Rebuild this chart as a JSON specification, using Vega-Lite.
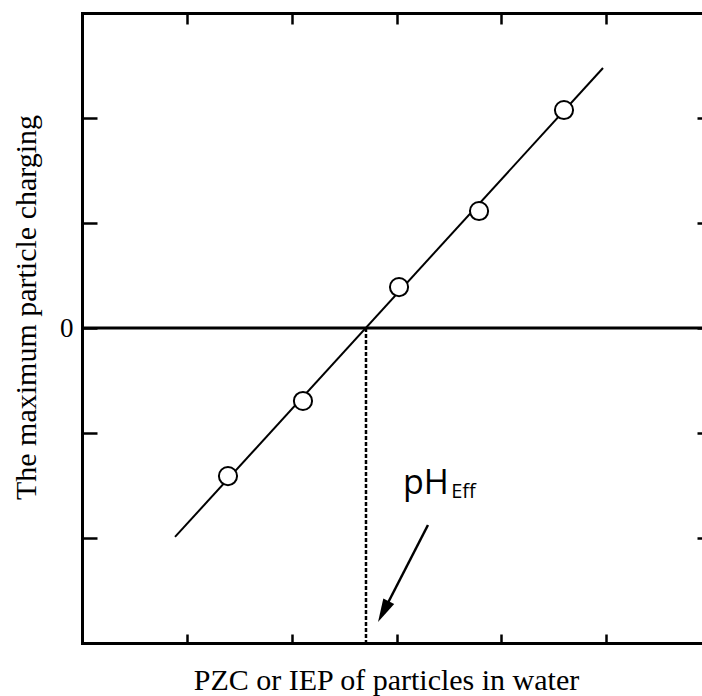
{
  "$schema": "https://vega.github.io/schema/vega-lite/v6.json",
  "width": 620,
  "height": 630,
  "autosize": {"type": "none"},
  "padding": {"left": 82, "top": 13, "right": 0, "bottom": 53},
  "background": "white",
  "config": {
    "view": {"stroke": null},
    "axis": {"grid": false, "domain": false, "domainColor": "black", "domainWidth": 3, "domainCap": "square", "tickColor": "black", "tickWidth": 2.5, "labelColor": "black", "titleColor": "black", "titleFontWeight": "normal"}
  },
  "resolve": {"axis": {"x": "independent", "y": "independent"}},
  "layer": [
    {
      "data": {"values": [{"x": 0.887, "y": -1.99}, {"x": 4.968, "y": 2.476}]},
      "mark": {"type": "line", "color": "black", "strokeWidth": 2},
      "encoding": {
        "x": {"field": "x", "type": "quantitative",
          "scale": {"domain": [0, 5.912], "nice": false, "zero": false},
          "axis": {"orient": "bottom", "domain": true, "values": [1, 2, 3, 4, 5], "tickSize": -9, "labels": false,
            "title": "PZC or IEP of particles in water", "titleFont": "Liberation Serif", "titleFontSize": 30,
            "titleBaseline": "alphabetic", "titleAlign": "center", "titleX": 304, "titleY": 46}},
        "y": {"field": "y", "type": "quantitative",
          "scale": {"domain": [-3, 3], "nice": false, "zero": false},
          "axis": {"orient": "left", "domain": true, "values": [-2, -1, 0, 1, 2], "tickSize": -15,
            "labelExpr": "datum.value == 0 ? '0' : ''", "labelFont": "Liberation Serif", "labelFontSize": 27, "labelPadding": 24,
            "title": "The maximum particle charging", "titleFont": "Liberation Serif", "titleFontSize": 30,
            "titleAngle": -90, "titleBaseline": "alphabetic", "titleAlign": "center", "titleX": -47, "titleY": 294}}
      }
    },
    {
      "data": {"values": [{"x": 2.708, "y": 0, "y2": -3}]},
      "mark": {"type": "rule", "color": "black", "strokeWidth": 2.5, "strokeDash": [4, 2]},
      "encoding": {
        "x": {"field": "x", "type": "quantitative",
          "axis": {"orient": "top", "domain": true, "values": [1, 2, 3, 4, 5], "tickSize": -11, "labels": false, "title": null}},
        "y": {"field": "y", "type": "quantitative",
          "axis": {"orient": "right", "domain": false, "values": [-2, -1, 0, 1, 2], "tickSize": -5, "labels": false, "title": null}},
        "y2": {"field": "y2"}
      }
    },
    {
      "data": {"values": [{"y": 0}]},
      "mark": {"type": "rule", "color": "black", "strokeWidth": 3},
      "encoding": {"y": {"field": "y", "type": "quantitative", "axis": null}}
    },
    {
      "data": {"values": [
        {"x": 1.392, "y": -1.41},
        {"x": 2.107, "y": -0.695},
        {"x": 3.023, "y": 0.39},
        {"x": 3.786, "y": 1.114},
        {"x": 4.596, "y": 2.076}
      ]},
      "mark": {"type": "point", "shape": "circle", "filled": true, "fill": "white", "stroke": "black", "strokeWidth": 2, "size": 330, "opacity": 1},
      "encoding": {
        "x": {"field": "x", "type": "quantitative", "axis": null},
        "y": {"field": "y", "type": "quantitative", "axis": null}
      }
    },
    {
      "data": {"values": [{"x": 3.299, "y": -1.876}, {"x": 2.88, "y": -2.69}]},
      "mark": {"type": "line", "color": "black", "strokeWidth": 2.5},
      "encoding": {
        "x": {"field": "x", "type": "quantitative", "axis": null},
        "y": {"field": "y", "type": "quantitative", "axis": null}
      }
    },
    {
      "data": {"values": [{"x": 2.823, "y": -2.8}]},
      "mark": {"type": "point", "shape": "M0,0L0.42,1.6L-0.42,1.6Z", "filled": true, "color": "black", "opacity": 1, "size": 850, "angle": 207.3},
      "encoding": {
        "x": {"field": "x", "type": "quantitative", "axis": null},
        "y": {"field": "y", "type": "quantitative", "axis": null}
      }
    },
    {
      "data": {"values": [
        {"x": 3.061, "y": -1.581, "label": "pH", "size": 34},
        {"x": 3.52, "y": -1.619, "label": "Eff", "size": 20}
      ]},
      "mark": {"type": "text", "font": "Open Sans", "align": "left", "baseline": "alphabetic", "color": "black"},
      "encoding": {
        "x": {"field": "x", "type": "quantitative", "axis": null},
        "y": {"field": "y", "type": "quantitative", "axis": null},
        "text": {"field": "label"},
        "size": {"field": "size", "type": "quantitative", "scale": null, "legend": null}
      }
    }
  ]
}
